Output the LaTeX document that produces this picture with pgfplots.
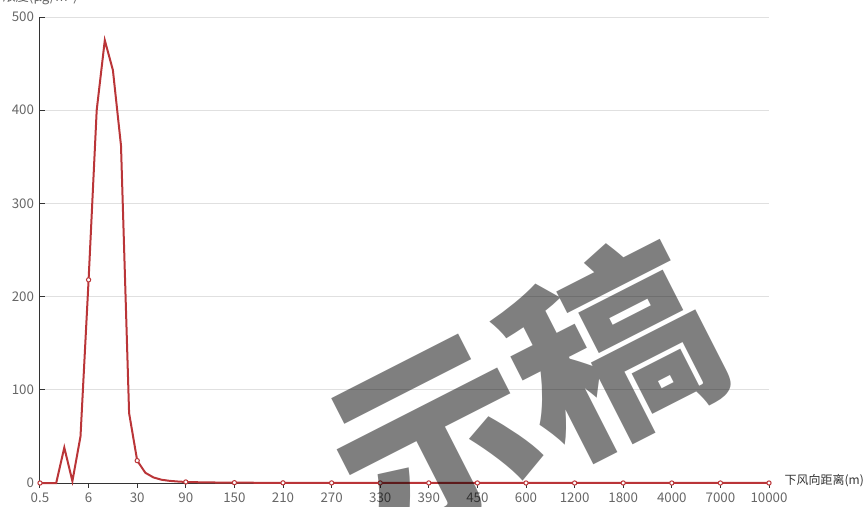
\documentclass[border=0pt]{standalone}
\usepackage{pgfplots}
\pgfplotsset{compat=1.18}
\usepackage{fontspec}
\setmainfont{Noto Sans CJK SC}
\definecolor{ln}{HTML}{BA3538}
\definecolor{lbl}{HTML}{666666}
\definecolor{axc}{HTML}{333333}
\definecolor{gridc}{HTML}{E0E0E0}
\begin{document}
\begin{tikzpicture}[x=0.75pt,y=0.75pt]
\path[use as bounding box] (0,0) rectangle (868,507);
\begin{axis}[
  at={(30pt,18pt)}, anchor=south west,
  scale only axis, width=546.75pt, height=349.5pt,
  xmin=0, xmax=90, ymin=0, ymax=500,
  axis lines=left, axis line style={-, axc, line width=0.75pt},
  xtick={0,6,...,90},
  xticklabels={0.5,6,30,90,150,210,270,330,390,450,600,1200,1800,4000,7000,10000},
  ytick={0,100,...,500},
  xtick align=outside,
  ytick align=inside,
  major tick length=3.5pt,
  xtick style={axc, line width=0.75pt},
  ytick style={axc, line width=0.75pt},
  ymajorgrids, grid style={gridc, line width=0.75pt},
  tick label style={lbl, font=\fontsize{10}{11}\selectfont},
  yticklabel style={xshift=-1pt},
  /pgf/number format/assume math mode=true,
  clip=false,
]
\addplot[ln, line width=1.5pt, mark=*, mark repeat=6, mark phase=1,
  mark size=1.6pt, mark options={fill=white, draw=ln, line width=0.75pt}]
  coordinates {
(0,0)(1,0)(2,0)(3,38)(4,2)(5,50)(6,218)(7,400)(8,475)(9,443)(10,362)(11,75)(12,24)
(13,11)(14,6)(15,3.5)(16,2.3)(17,1.6)(18,1.1)(19,0.9)(20,0.7)(21,0.6)(22,0.5)(23,0.4)
(24,0.35)(25,0.3)(26,0.28)(27,0.25)(28,0.22)(29,0.2)(30,0.18)(31,0.17)(32,0.16)(33,0.15)
(34,0.14)(35,0.13)(36,0.12)(37,0.11)(38,0.1)(39,0.1)(40,0.09)(41,0.09)(42,0.08)(43,0.08)
(44,0.07)(45,0.07)(46,0.07)(47,0.06)(48,0.06)(49,0.06)(50,0.05)(51,0.05)(52,0.05)(53,0.05)
(54,0.04)(55,0.04)(56,0.04)(57,0.04)(58,0.04)(59,0.03)(60,0.03)(61,0.03)(62,0.03)(63,0.03)
(64,0.03)(65,0.02)(66,0.02)(67,0.02)(68,0.02)(69,0.02)(70,0.02)(71,0.02)(72,0.02)(73,0.01)
(74,0.01)(75,0.01)(76,0.01)(77,0.01)(78,0.01)(79,0.01)(80,0.01)(81,0.01)(82,0.01)(83,0.01)
(84,0.01)(85,0.01)(86,0.01)(87,0.01)(88,0.01)(89,0.01)(90,0.01)
  };
\end{axis}
\node[lbl, font=\fontsize{10}{11}\selectfont] at (40,510) {浓度(μg/m³)};
\node[anchor=west, text=axc, font=\fontsize{9}{10}\selectfont, inner sep=1pt] at (783,26) {下风向距离(m)};
\node[text=black, text opacity=0.5, rotate=27, font=\fontsize{150}{150}\selectfont\bfseries, inner sep=0pt] at (522,113) {示稿};
\end{tikzpicture}
\end{document}
